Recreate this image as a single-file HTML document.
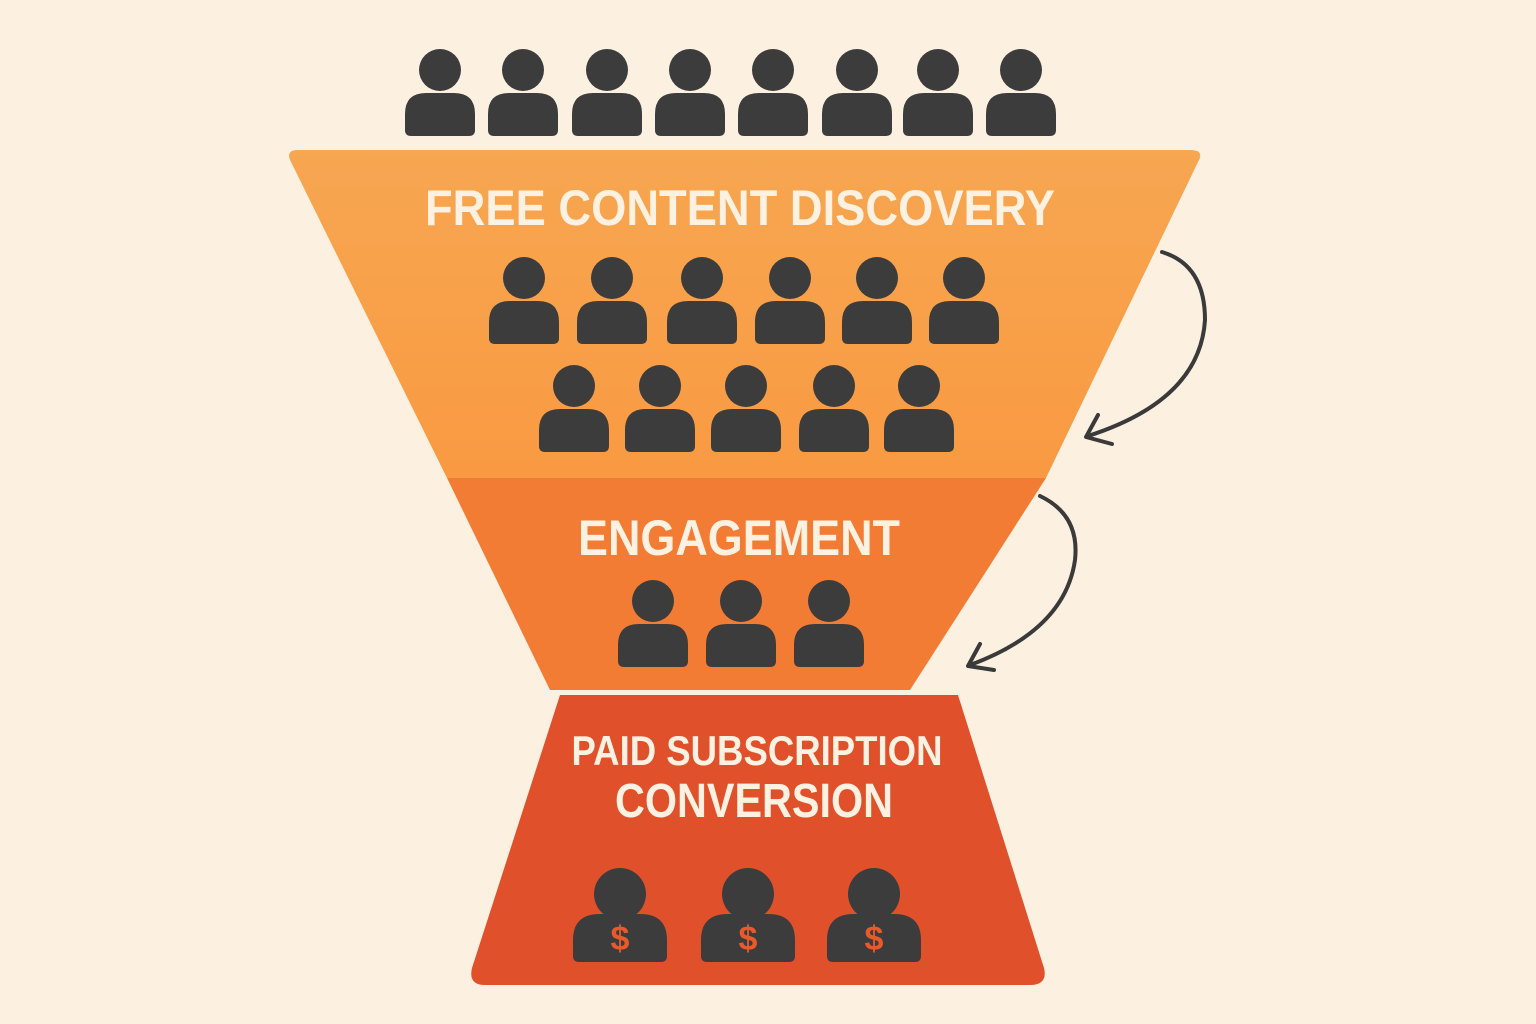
<!DOCTYPE html>
<html><head><meta charset="utf-8"><style>
html,body{margin:0;padding:0;background:#fcf0e0;}
svg{display:block}
</style></head><body>
<svg width="1536" height="1024" viewBox="0 0 1536 1024" xmlns="http://www.w3.org/2000/svg">
<defs>
<linearGradient id="g1" x1="0" y1="0" x2="0" y2="1">
<stop offset="0" stop-color="#f7a651"/><stop offset="1" stop-color="#f99a42"/>
</linearGradient>
<g id="p">
<circle cx="0" cy="-32" r="21"/>
<path d="M-35 28 L-35 12 Q-35 -9 -14 -9 L14 -9 Q35 -9 35 12 L35 28 Q35 34 29 34 L-29 34 Q-35 34 -35 28 Z" />
</g>
<g id="pb">
<circle cx="0" cy="-34" r="26"/>
<path d="M-47 28 L-47 12 Q-47 -14 -20 -14 L20 -14 Q47 -14 47 12 L47 28 Q47 34 41 34 L-41 34 Q-47 34 -47 28 Z"/>
</g>
</defs>
<rect width="1536" height="1024" fill="#fcf0e0"/>
<path d="M298 150 L1190 150 Q1205 150 1198 162 L1046 478 L447 478 L291 162 Q285 150 298 150 Z" fill="url(#g1)"/>
<path d="M447 478 L1046 478 L910 690 L550 690 Z" fill="#f37c35"/>
<path d="M560 695 L958 695 L1044 968 Q1048 985 1030 985 L485 985 Q468 985 472 968 Z" fill="#e0512b"/>
<g fill="#3c3c3c">
<use href="#p" x="440" y="102"/><use href="#p" x="523" y="102"/><use href="#p" x="607" y="102"/><use href="#p" x="690" y="102"/>
<use href="#p" x="773" y="102"/><use href="#p" x="857" y="102"/><use href="#p" x="938" y="102"/><use href="#p" x="1021" y="102"/>
<use href="#p" x="524" y="310"/><use href="#p" x="612" y="310"/><use href="#p" x="702" y="310"/><use href="#p" x="790" y="310"/><use href="#p" x="877" y="310"/><use href="#p" x="964" y="310"/>
<use href="#p" x="574" y="418"/><use href="#p" x="660" y="418"/><use href="#p" x="746" y="418"/><use href="#p" x="834" y="418"/><use href="#p" x="919" y="418"/>
<use href="#p" x="653" y="633"/><use href="#p" x="741" y="633"/><use href="#p" x="829" y="633"/>
<use href="#pb" x="620" y="928"/><use href="#pb" x="748" y="928"/><use href="#pb" x="874" y="928"/>
</g>
<g fill="#e9592c" font-family="Liberation Sans, sans-serif" font-weight="bold" font-size="34" text-anchor="middle">
<text x="620" y="950">$</text><text x="748" y="950">$</text><text x="874" y="950">$</text>
</g>
<g fill="#fdf1e2" font-family="Liberation Sans, sans-serif" font-weight="bold" text-anchor="middle">
<text x="740" y="225" font-size="50" textLength="630" lengthAdjust="spacingAndGlyphs">FREE CONTENT DISCOVERY</text>
<text x="739" y="555" font-size="50" textLength="322" lengthAdjust="spacingAndGlyphs">ENGAGEMENT</text>
<text x="757" y="765" font-size="42" textLength="371" lengthAdjust="spacingAndGlyphs">PAID SUBSCRIPTION</text>
<text x="754" y="817" font-size="48" textLength="278" lengthAdjust="spacingAndGlyphs">CONVERSION</text>
</g>
<g fill="none" stroke="#3a3a3a" stroke-width="4" stroke-linecap="round" stroke-linejoin="round">
<path d="M1162 252 Q1205 265 1205 320 Q1200 400 1088 436"/>
<path d="M1098 415 L1086 437 L1112 444"/>
<path d="M1040 496 Q1080 515 1075 560 Q1065 630 970 665"/>
<path d="M980 644 L968 666 L994 670"/>
</g>
</svg>
</body></html>
